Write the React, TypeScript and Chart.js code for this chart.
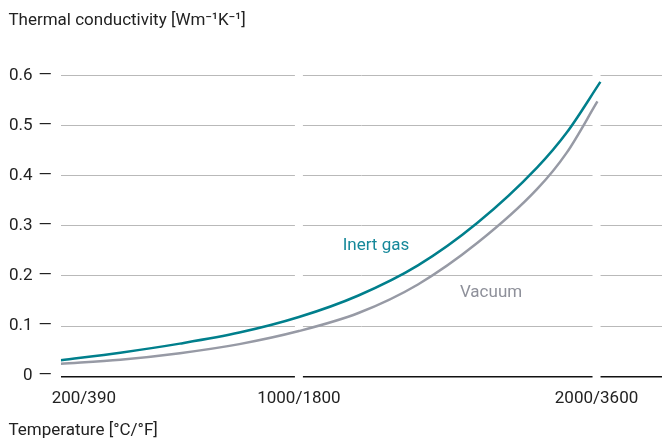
import React, { useEffect, useRef } from "react";
import { Chart, registerables } from "chart.js";

Chart.register(...registerables);

// ---- data ----
const X_TICKS = [200, 1000, 2000];
const X_TICK_LABELS = ["200/390", "1000/1800", "2000/3600"];
const Y_TICKS = [0, 0.1, 0.2, 0.3, 0.4, 0.5, 0.6];

const INERT_TEMPS = [200, 400, 600, 800, 1000, 1200, 1400, 1600, 1800, 1900, 2013];
const INERT_VALUES = [0.032, 0.047, 0.065, 0.087, 0.118, 0.161, 0.221, 0.306, 0.416, 0.486, 0.587];

const VACUUM_TEMPS = [200, 400, 600, 800, 1000, 1200, 1400, 1600, 1800, 1900, 2003];
const VACUUM_VALUES = [0.025, 0.033, 0.046, 0.064, 0.09, 0.126, 0.183, 0.266, 0.373, 0.446, 0.548];

const SERIES_NAMES = ["Inert gas", "Vacuum"];
const BREAKS = [1000, 2000];

const TEAL = "#007f8c";
const GREY = "#979aa5";
const TEXT = "#222222";
const FONT = "Roboto, 'Noto Sans', sans-serif";
const FONT_SIZE = 17;
const X_TICK_PAD = 12;
const FIRST_LABEL_SHIFT = 23; // first x label sits right of its tick in the reference

// label anchors in data units
const LABELS = [
  { text: SERIES_NAMES[0], x: 1147, y: 0.26, color: "#16889a" },
  { text: SERIES_NAMES[1], x: 1541, y: 0.166, color: "#8e909a" },
];

const gapPlugin = {
  id: "gaps",
  beforeDatasetsDraw(chart: any) {
    const { ctx, chartArea, scales } = chart;
    ctx.save();
    ctx.fillStyle = "#ffffff";
    BREAKS.forEach((b) => {
      const px = scales.x.getPixelForValue(b);
      ctx.fillRect(px - 4, chartArea.top - 3, 8, chartArea.bottom - chartArea.top + 6);
    });
    ctx.restore();
  },
  afterDatasetsDraw(chart: any) {
    const { ctx, scales } = chart;
    ctx.save();
    ctx.font = `${FONT_SIZE}px ${FONT}`;
    ctx.textAlign = "left";
    ctx.textBaseline = "middle";
    LABELS.forEach((l) => {
      ctx.fillStyle = l.color;
      ctx.fillText(l.text, scales.x.getPixelForValue(l.x), scales.y.getPixelForValue(l.y));
    });
    // first x tick label, offset to the right of its tick
    const xs = scales.x;
    ctx.fillStyle = TEXT;
    ctx.textAlign = "center";
    ctx.fillText(
      X_TICK_LABELS[0],
      xs.getPixelForValue(X_TICKS[0]) + FIRST_LABEL_SHIFT,
      xs.top + X_TICK_PAD + (FONT_SIZE * 1.2) / 2
    );
    ctx.restore();
  },
};

export default function App() {
  const ref = useRef<HTMLCanvasElement | null>(null);
  useEffect(() => {
    if (!ref.current) return;
    const chart = new Chart(ref.current, {
      type: "line",
      data: {
        datasets: [
          {
            label: SERIES_NAMES[0],
            data: INERT_TEMPS.map((t, i) => ({ x: t, y: INERT_VALUES[i] })),
            borderColor: TEAL,
            borderWidth: 2.5,
            pointRadius: 0,
            cubicInterpolationMode: "monotone",
            fill: false,
          },
          {
            label: SERIES_NAMES[1],
            data: VACUUM_TEMPS.map((t, i) => ({ x: t, y: VACUUM_VALUES[i] })),
            borderColor: GREY,
            borderWidth: 2.5,
            pointRadius: 0,
            cubicInterpolationMode: "monotone",
            fill: false,
          },
        ],
      },
      options: {
        animation: false,
        responsive: true,
        maintainAspectRatio: false,
        layout: { padding: { left: 0, right: 0, top: 0, bottom: 0 } },
        plugins: {
          legend: { display: false },
          tooltip: { enabled: false },
          title: {
            display: true,
            text: "  Thermal conductivity [Wm⁻¹K⁻¹]",
            align: "start",
            color: TEXT,
            font: { family: FONT, size: FONT_SIZE, weight: "normal" },
            padding: { top: 11, bottom: 44 },
          },
          subtitle: {
            display: true,
            position: "bottom",
            text: "  Temperature [°C/°F]",
            align: "start",
            color: TEXT,
            font: { family: FONT, size: FONT_SIZE, weight: "normal" },
            padding: { top: 0, bottom: 0 },
          },
        },
        scales: {
          x: {
            type: "linear",
            min: 200,
            max: 2220,
            grid: { display: false, drawTicks: false },
            border: { display: false },
            afterBuildTicks: (scale: any) => {
              scale.ticks = X_TICKS.map((v) => ({ value: v }));
            },
            ticks: {
              autoSkip: false,
              maxRotation: 0,
              padding: X_TICK_PAD,
              color: (c: any) => (c.index === 0 ? "rgba(0,0,0,0)" : TEXT),
              font: { family: FONT, size: FONT_SIZE },
              callback: (v: any) => {
                const i = X_TICKS.indexOf(Number(v));
                return i < 0 ? "" : X_TICK_LABELS[i];
              },
            },
          },
          y: {
            type: "linear",
            min: 0,
            max: 0.6,
            afterBuildTicks: (scale: any) => {
              scale.ticks = Y_TICKS.map((v) => ({ value: v }));
            },
            grid: {
              drawTicks: false,
              color: (c: any) => (c.tick && c.tick.value === 0 ? "#111111" : "#b9b9b9"),
              lineWidth: (c: any) => (c.tick && c.tick.value === 0 ? 1.4 : 1),
            },
            border: { display: false },
            ticks: {
              padding: 9,
              color: TEXT,
              font: { family: FONT, size: FONT_SIZE },
              callback: (v: any) => (Number(v) === 0 ? "0" : Number(v).toFixed(1)) + " \u200a—",
            },
          },
        },
      },
      plugins: [gapPlugin],
    });
    return () => chart.destroy();
  }, []);
  return (
    <div style={{ position: "absolute", left: 0, top: 0, width: 662, height: 441 }}>
      <canvas ref={ref} />
    </div>
  );
}
